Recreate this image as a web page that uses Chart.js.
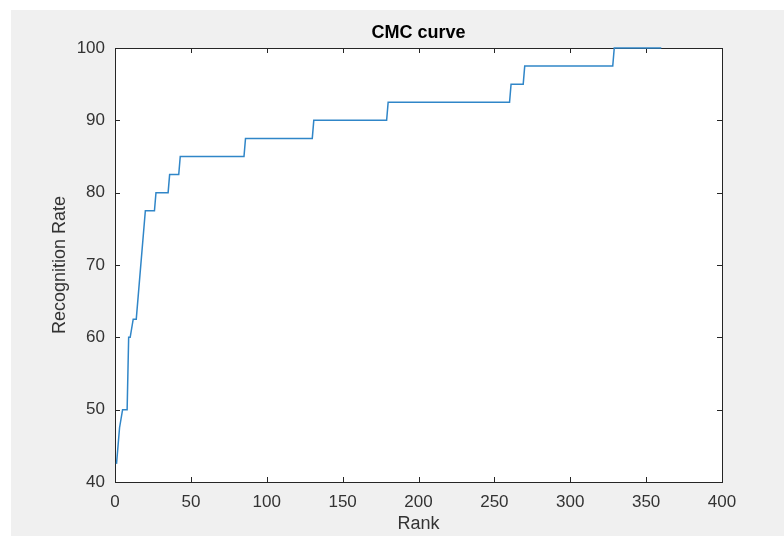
<!DOCTYPE html>
<html>
<head>
<meta charset="utf-8">
<script src="https://cdn.jsdelivr.net/npm/chart.js@4/dist/chart.umd.min.js"></script>
<style>
  html, body { margin: 0; padding: 0; background: #fff; }
  #wrap { width: 784px; height: 536px; }
</style>
</head>
<body>
<div id="wrap"><canvas id="cmc" width="784" height="536"></canvas></div>
<script>
// CMC curve (rank -> recognition rate %)
const ranks = [1, 3, 5, 8, 9, 10, 12, 14, 16, 20, 26, 27, 35, 36, 42, 43, 85, 86, 130, 131, 179, 180, 260, 261, 269, 270, 328, 329, 360];
const rates = [42.5, 47.5, 50, 50, 60, 60, 62.5, 62.5, 67.5, 77.5, 77.5, 80, 80, 82.5, 82.5, 85, 85, 87.5, 87.5, 90, 90, 92.5, 92.5, 95, 95, 97.5, 97.5, 100, 100];

const xTicks = [0, 50, 100, 150, 200, 250, 300, 350, 400];
const yTicks = [40, 50, 60, 70, 80, 90, 100];

const axisColor = "#262626";
const textColor = "#333333";
const lineColor = "rgb(48,134,200)";

const points = ranks.map((r, i) => ({ x: r, y: rates[i] }));

// figure backdrop + white axes box
const backdrop = {
  id: "backdrop",
  beforeDraw(chart) {
    const ctx = chart.ctx;
    const a = chart.chartArea;
    ctx.save();
    ctx.fillStyle = "#ffffff";
    ctx.fillRect(0, 0, chart.width, chart.height);
    ctx.fillStyle = "#f0f0f0";
    ctx.fillRect(11, 10, chart.width - 11, chart.height - 10);
    ctx.fillStyle = "#ffffff";
    ctx.fillRect(a.left, a.top, a.right - a.left, a.bottom - a.top);
    ctx.restore();
  }
};

// matlab style box with inward ticks on all four sides (under the curve)
const boxTicks = {
  id: "boxTicks",
  beforeDatasetsDraw(chart) {
    const ctx = chart.ctx;
    const a = chart.chartArea;
    const xs = chart.scales.x;
    const ys = chart.scales.y;
    const len = 5;
    ctx.save();
    ctx.strokeStyle = axisColor;
    ctx.lineWidth = 1;
    ctx.beginPath();
    xs.ticks.forEach(t => {
      const px = Math.round(xs.getPixelForValue(t.value)) + 0.5;
      ctx.moveTo(px, a.bottom); ctx.lineTo(px, a.bottom - len);
      ctx.moveTo(px, a.top); ctx.lineTo(px, a.top + len);
    });
    ys.ticks.forEach(t => {
      const py = Math.round(ys.getPixelForValue(t.value)) + 0.5;
      ctx.moveTo(a.left, py); ctx.lineTo(a.left + len, py);
      ctx.moveTo(a.right, py); ctx.lineTo(a.right - len, py);
    });
    ctx.stroke();
    ctx.strokeRect(Math.round(a.left) + 0.5, Math.round(a.top) + 0.5,
                   Math.round(a.right - a.left), Math.round(a.bottom - a.top));
    ctx.restore();
  }
};

new Chart(document.getElementById("cmc").getContext("2d"), {
  type: "line",
  data: {
    datasets: [{
      label: "CMC",
      data: points,
      borderColor: lineColor,
      borderWidth: 1.5,
      pointRadius: 0,
      tension: 0,
      fill: false,
      clip: 3
    }]
  },
  options: {
    responsive: false,
    animation: false,
    layout: { padding: { left: 0, right: 62, top: 0, bottom: 0 } },
    plugins: {
      legend: { display: false },
      tooltip: { enabled: false },
      title: {
        display: true,
        fullSize: false,
        text: "CMC curve",
        color: "#000000",
        font: { family: "Liberation Sans, Arial, sans-serif", size: 18, weight: "bold", lineHeight: 1.2 },
        padding: { top: 22, bottom: 4.4 }
      }
    },
    scales: {
      x: {
        type: "linear",
        min: 0,
        max: 400,
        afterBuildTicks: s => { s.ticks = xTicks.map(v => ({ value: v })); },
        afterFit: s => { s.height = 54; },
        grid: { display: false, drawTicks: false },
        border: { display: false },
        ticks: {
          color: textColor,
          padding: 10,
          maxRotation: 0,
          font: { family: "Liberation Sans, Arial, sans-serif", size: 17 }
        },
        title: {
          display: true,
          text: "Rank",
          color: textColor,
          padding: { top: 1, bottom: 1 },
          font: { family: "Liberation Sans, Arial, sans-serif", size: 18, lineHeight: 1.2 }
        }
      },
      y: {
        min: 40,
        max: 100,
        afterBuildTicks: s => { s.ticks = yTicks.map(v => ({ value: v })); },
        afterFit: s => { s.width = 115; },
        grid: { display: false, drawTicks: false },
        border: { display: false },
        ticks: {
          color: textColor,
          padding: 10,
          font: { family: "Liberation Sans, Arial, sans-serif", size: 17 }
        },
        title: {
          display: true,
          text: "Recognition Rate",
          color: textColor,
          padding: { top: 49, bottom: 49 },
          font: { family: "Liberation Sans, Arial, sans-serif", size: 18, lineHeight: 1.2 }
        }
      }
    }
  },
  plugins: [backdrop, boxTicks]
});
</script>
</body>
</html>
